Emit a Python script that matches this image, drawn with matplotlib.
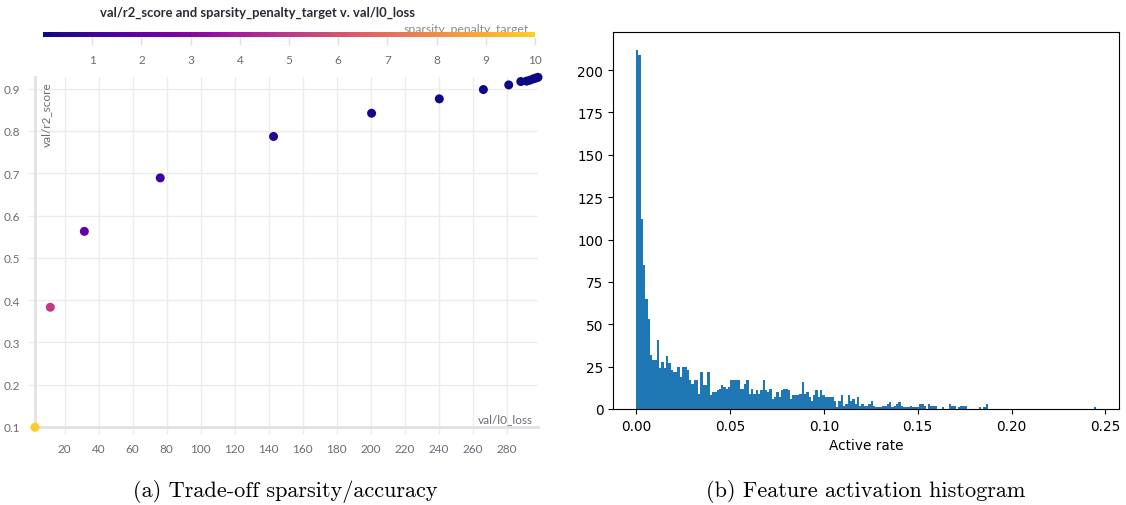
import numpy as np
import matplotlib
matplotlib.use("Agg")
import matplotlib.pyplot as plt
from matplotlib.colors import LinearSegmentedColormap, Normalize
from matplotlib.cm import ScalarMappable

# ---- sweep results: L0 loss vs R2 score, coloured by sparsity penalty target ----
l0_loss = [2.6, 11.6, 31.6, 76.2, 142.8, 200.4, 240.2, 266.1, 281.0,
           288.1, 291.5, 293.3, 295.3, 296.8, 298.2]
r2_score = [0.099, 0.383, 0.5625, 0.689, 0.787, 0.842, 0.876, 0.898, 0.909,
            0.917, 0.918, 0.920, 0.923, 0.925, 0.927]
penalty_target = [10, 5, 2, 1, 0.5, 0.2, 0.1, 0.05, 0.02,
                  0.01, 0.005, 0.002, 0.001, 0.0005, 0.0001]

x_ticks = list(range(20, 281, 20))
y_ticks = [0.1, 0.2, 0.3, 0.4, 0.5, 0.6, 0.7, 0.8, 0.9]
cbar_ticks = list(range(1, 11))

# ---- feature activation rate histogram (200 bins on [0, 0.245]) ----
rate_min, rate_max = 0.0, 0.245
hist_counts = [
    212, 209, 112, 85, 65, 53, 32, 29, 29, 41,
    24, 28, 24, 31, 27, 23, 22, 22, 25, 19,
    25, 25, 23, 17, 15, 17, 17, 9, 22, 14,
    14, 22, 8, 10, 10, 11, 12, 14, 13, 12,
    13, 17, 17, 17, 17, 12, 12, 15, 17, 9,
    12, 9, 11, 9, 11, 17, 11, 10, 12, 6,
    7, 10, 7, 11, 12, 12, 11, 6, 8, 8,
    8, 9, 16, 9, 10, 7, 5, 8, 11, 7,
    11, 8, 7, 7, 7, 7, 5, 1, 5, 8,
    2, 3, 8, 5, 6, 3, 7, 2, 3, 2,
    2, 3, 5, 2, 1, 1, 1, 2, 2, 3,
    4, 1, 2, 3, 4, 2, 1, 1, 1, 2,
    1, 1, 1, 3, 3, 2, 0, 3, 2, 2,
    2, 0, 0, 1, 0, 0, 3, 2, 2, 0,
    1, 2, 2, 2, 0, 0, 0, 0, 0, 1,
    0, 1, 3, 0, 0, 0, 0, 0, 0, 0,
    0, 0, 0, 0, 0, 0, 0, 0, 0, 0,
    0, 0, 0, 0, 0, 0, 0, 0, 0, 0,
    0, 0, 0, 0, 0, 0, 0, 0, 0, 0,
    0, 0, 0, 0, 0, 0, 0, 0, 0, 1,
]
hist_xticks = [0.00, 0.05, 0.10, 0.15, 0.20, 0.25]
hist_yticks = [0, 25, 50, 75, 100, 125, 150, 175, 200]

W, H = 1126, 506
fig = plt.figure(figsize=(W / 100, H / 100), dpi=100)


def fx(px):
    return px / W


def fy(py):
    return 1 - py / H


ui_font = "Lato"
grey_txt = "#6b6b76"
grid_col = "#ececec"
axis_col = "#e2e2e2"

cmap = LinearSegmentedColormap.from_list(
    "plasma_trunc", plt.get_cmap("plasma")(np.linspace(0, 0.9, 256)))
norm = Normalize(vmin=0, vmax=10)

# ---------------- left panel: scatter ----------------
axL = fig.add_axes([fx(35), fy(428.3), fx(538 - 35), (428.3 - 78.3) / H])
axL.scatter(l0_loss, r2_score, c=penalty_target, cmap=cmap, norm=norm,
            s=42, linewidths=0, zorder=5, clip_on=False)
axL.set_xlim(min(l0_loss), max(l0_loss))
axL.set_ylim(min(r2_score), max(r2_score))
axL.set_xticks(x_ticks)
axL.set_yticks(y_ticks)
axL.set_yticklabels([f"{v:.1f}" for v in y_ticks])
axL.grid(True, color=grid_col, linewidth=1)
axL.set_axisbelow(True)
for side in ("top", "right"):
    axL.spines[side].set_visible(False)
for side in ("left", "bottom"):
    axL.spines[side].set_color(axis_col)
    axL.spines[side].set_linewidth(2)
axL.tick_params(axis="both", length=5, width=1, color=grid_col,
                labelcolor=grey_txt, labelsize=8.5, pad=6)
for lab in axL.get_xticklabels() + axL.get_yticklabels():
    lab.set_fontfamily(ui_font)
axL.text(0.022, 0.99, "val/r2_score", rotation=90, transform=axL.transAxes,
         ha="center", va="top", fontsize=8.5, color=grey_txt, family=ui_font)
axL.text(0.99, 0.025, "val/l0_loss", transform=axL.transAxes,
         ha="right", va="center", fontsize=8.5, color=grey_txt, family=ui_font)

# title and colour bar above the scatter
fig.text(fx(257), fy(13), "val/r2_score and sparsity_penalty_target v. val/l0_loss",
         ha="center", va="center", fontsize=9.4, fontweight="bold",
         color="#2b2b33", family=ui_font)
fig.text(fx(529), fy(33), "sparsity_penalty_target", ha="right", va="baseline",
         fontsize=8.8, color="#8a8a94", family=ui_font, zorder=-1)
cax = fig.add_axes([fx(43), fy(38), fx(535 - 43), 5.4 / H])
cb = fig.colorbar(ScalarMappable(norm=norm, cmap=cmap), cax=cax,
                  orientation="horizontal", ticks=cbar_ticks)
cb.outline.set_visible(False)
cax.tick_params(axis="x", length=6, width=1, color="#e0e0e0",
                labelcolor=grey_txt, labelsize=8.5, pad=6)
for lab in cax.get_xticklabels():
    lab.set_fontfamily(ui_font)

# ---------------- right panel: histogram ----------------
axR = fig.add_axes([fx(613), fy(410), fx(1119 - 613), (410 - 32.7) / H])
edges = np.linspace(rate_min, rate_max, len(hist_counts) + 1)
axR.bar(edges[:-1], hist_counts, width=np.diff(edges), align="edge",
        color="#1f77b4", linewidth=0)
axR.set_xticks(hist_xticks)
axR.set_yticks(hist_yticks)
axR.set_xticklabels([f"{v:.2f}" for v in hist_xticks])
axR.tick_params(labelsize=9.8)
axR.set_xlabel("Active rate", fontsize=9.8, labelpad=4)

# ---------------- captions ----------------
fig.text(fx(285), fy(492), "(a) Trade-off sparsity/accuracy", ha="center",
         va="center", fontsize=16, family="cmr10")
fig.text(fx(866), fy(492), "(b) Feature activation histogram", ha="center",
         va="center", fontsize=16, family="cmr10")

fig.savefig("out.png", dpi=100)
